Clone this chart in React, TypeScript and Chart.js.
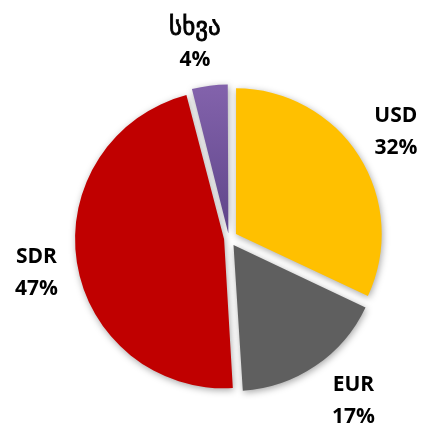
import React, { useEffect, useRef } from "react";
import { Chart, registerables } from "chart.js";
Chart.register(...registerables);

const categories = ["USD", "EUR", "SDR", "სხვა"];
const shares = [32, 17, 47, 4];
const percentLabels = ["32%", "17%", "47%", "4%"];
const colors = ["#FFC000", "#5F5F5F", "#C00000", "#7B5CA5"];

const RADIUS = 145;
const GAP = 9;
const LABEL_DIST = 55;
// small hand placement tweaks of the outside labels (px)
const LABEL_NUDGE = [
  [-2, 1],
  [12, -3],
  [5, 3],
  [-9, 4],
];

const total = shares.reduce((a, b) => a + b, 0);

export default function App() {
  const ref = useRef<HTMLCanvasElement>(null);
  useEffect(() => {
    if (!ref.current) return;
    const shadowPlugin = {
      id: "sliceShadow",
      beforeDatasetsDraw(chart: any) {
        const c = chart.ctx;
        c.save();
        c.shadowColor = "rgba(0,0,0,0.35)";
        c.shadowBlur = 7;
        c.shadowOffsetX = 1;
        c.shadowOffsetY = 2;
      },
      afterDatasetsDraw(chart: any) {
        chart.ctx.restore();
      },
    };
    const labelPlugin = {
      id: "sliceLabels",
      afterDraw(chart: any) {
        const meta = chart.getDatasetMeta(0);
        const ctx = chart.ctx;
        ctx.save();
        ctx.textAlign = "center";
        ctx.textBaseline = "middle";
        ctx.fillStyle = "#000";
        meta.data.forEach((arc: any, i: number) => {
          const p = arc.getProps(["x", "y", "startAngle", "endAngle", "outerRadius"], true);
          const mid = (p.startAngle + p.endAngle) / 2;
          const R = p.outerRadius + LABEL_DIST;
          const nudge = LABEL_NUDGE[i] || [0, 0];
          const cx = p.x + Math.cos(mid) * R + nudge[0];
          const cy = p.y + Math.sin(mid) * R + nudge[1];
          const isGeorgian = /[\u10A0-\u10FF]/.test(categories[i]);
          ctx.font = isGeorgian
            ? "25px 'DejaVu Sans', sans-serif"
            : "bold 21px 'Open Sans', 'DejaVu Sans', sans-serif";
          if (isGeorgian) {
            ctx.lineWidth = 0.8;
            ctx.strokeStyle = "#000";
            ctx.strokeText(categories[i], cx, cy - 16);
          }
          ctx.fillText(categories[i], cx, cy - 16);
          ctx.font = "bold 21px 'Open Sans', 'DejaVu Sans', sans-serif";
          ctx.fillText(percentLabels[i], cx, cy + 16);
        });
        ctx.restore();
      },
    };
    const chart = new Chart(ref.current, {
      type: "pie",
      data: {
        labels: categories,
        datasets: [
          {
            data: shares,
            backgroundColor: (context: any) => {
              const i = context.dataIndex;
              const a = context.chart.chartArea;
              if (i !== 3 || !a) return colors[i];
              const cy = (a.top + a.bottom) / 2;
              const g = context.chart.ctx.createLinearGradient(0, cy - RADIUS, 0, cy);
              g.addColorStop(0, "#8262AB");
              g.addColorStop(1, "#5F4589");
              return g;
            },
            borderWidth: 0,
            // Chart.js moves a slice by offset/4 * (2 - sin(circumference));
            // choose offset so each slice is pulled out by the same GAP.
            offset: (context: any) => {
              const v = shares[context.dataIndex] ?? 0;
              const circ = (v / total) * Math.PI * 2;
              const factor = 2 - Math.sin(Math.min(Math.PI, circ));
              return (4 * GAP) / factor;
            },
            hoverOffset: 0,
          },
        ],
      },
      options: {
        animation: false,
        responsive: false,
        radius: RADIUS,
        layout: { padding: { left: 60, right: 25, top: 80, bottom: 28 } },
        plugins: { legend: { display: false }, tooltip: { enabled: false } },
        events: [],
      } as any,
      plugins: [shadowPlugin, labelPlugin],
    });
    return () => chart.destroy();
  }, []);
  return (
    <div style={{ position: "absolute", left: 0, top: 0, width: 423, height: 425, background: "#fff" }}>
      <canvas ref={ref} width={423} height={425} />
    </div>
  );
}
